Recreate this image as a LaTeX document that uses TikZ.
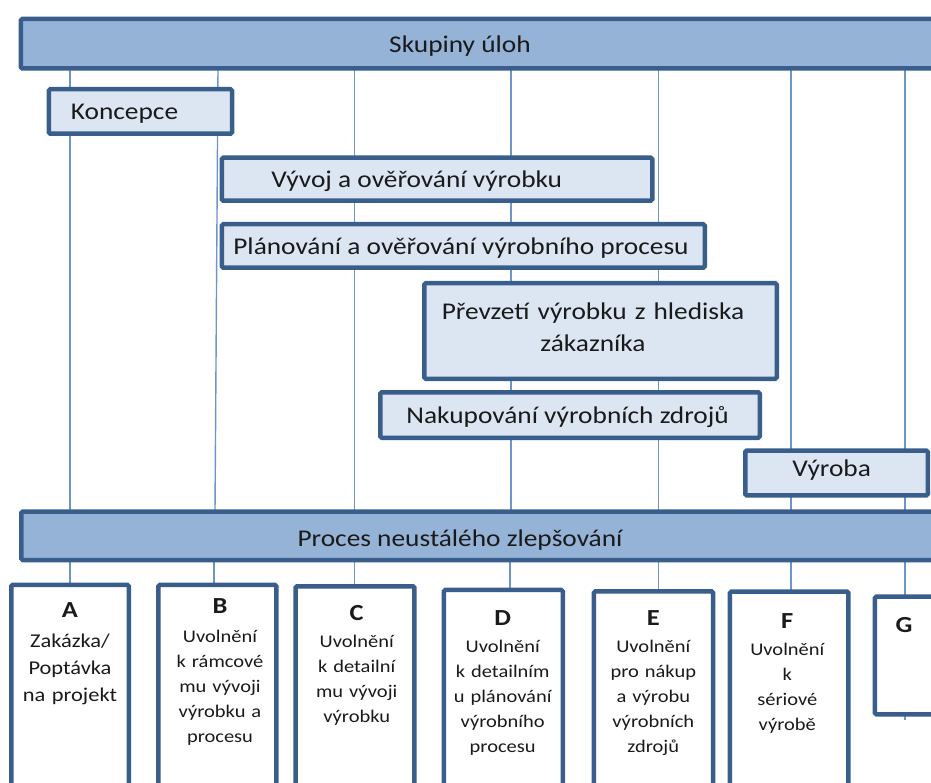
\documentclass[tikz,border=0pt]{standalone}
\usepackage{fontspec}
\setmainfont{Carlito}[FakeStretch=1.14]
\newfontfamily\gatefont{Carlito}[FakeStretch=1.15]
\usetikzlibrary{backgrounds}

\definecolor{barfill}{HTML}{95B3D7}
\definecolor{phasefill}{HTML}{DCE6F2}
\definecolor{edge}{HTML}{3A5E8C}
\definecolor{guide}{HTML}{6C95C8}
\definecolor{ink}{HTML}{1A1A1A}

\newcommand\gateletter[1]{{\fontsize{23}{25}\selectfont\bfseries #1}}

\tikzset{
  frame/.style={draw=edge, line width=4.5pt, rounded corners=1.5pt, inner sep=0pt, outer sep=0pt},
  bar/.style={frame, fill=barfill},
  phase/.style={frame, fill=phasefill},
  gate/.style={frame, fill=white},
  label/.style={inner sep=0pt, text=ink, font=\fontsize{24}{32}\selectfont},
  gatetext/.style={inner sep=0pt, text=ink, anchor=base, text width=118pt, align=center,
                   font=\gatefont\fontsize{17.8}{25}\selectfont},
  guideline/.style={draw=guide, line width=1.4pt}
}

\begin{document}
\begin{tikzpicture}[x=1pt, y=-1pt]
\useasboundingbox (0,0) rectangle (931,783);
\clip (0,0) rectangle (931,783);

% columns of the guide lines
\coordinate (xA) at (70,0);
\coordinate (xB) at (216,0);
\coordinate (xC) at (354.5,0);
\coordinate (xD) at (511,0);
\coordinate (xE) at (658.5,0);
\coordinate (xF) at (791,0);
\coordinate (xG) at (905,0);

% upper and lower bars
\node[bar, minimum width=937pt, minimum height=49.5pt] (top) at (489.25,43.7) {};
\node[label, anchor=base] (topL) at (460,53) {Skupiny úloh};
\node[bar, minimum width=936.5pt, minimum height=48.5pt] (bot) at (489.5,535.8) {};
\node[label, anchor=base] (botL) at (460,546) {Proces neustálého zlepšování};

% task groups
\node[phase, minimum width=183.3pt, minimum height=44.5pt] (p1) at (140.4,111.5) {};
\node[label, anchor=base west] (p1L) at (70.7,120) {Koncepce};
\node[phase, minimum width=430.5pt, minimum height=43pt] (p2) at (437,179.25) {};
\node[label, anchor=base] (p2L) at (416.7,188) {Vývoj a ověřování výrobku};
\node[phase, minimum width=483pt, minimum height=43.5pt] (p3) at (463.25,246) {};
\node[label, anchor=base] (p3L) at (461,255) {Plánování a ověřování výrobního procesu};
\node[phase, minimum width=352.5pt, minimum height=95.5pt] (p4) at (600.5,331) {};
\node[label, anchor=base, text width=340pt, align=center] (p4L) at (593,319.3)
  {Převzetí výrobku z hlediska\\zákazníka};
\node[phase, minimum width=379.5pt, minimum height=45.5pt] (p5) at (570,415) {};
\node[label, anchor=base] (p5L) at (567.6,423.3) {Nakupování výrobních zdrojů};
\node[phase, minimum width=182.5pt, minimum height=44.9pt] (p6) at (836.5,473) {};
\node[label, anchor=base] (p6L) at (831.7,476.7) {Výroba};

% release gates
\node[gate, minimum width=117.5pt, minimum height=213pt] (gA) at (70,691.25) {};
\node[gatetext, font=\gatefont\fontsize{19.5}{27}\selectfont] (tA) at (70,617.2)
  {\gateletter{A}\\[3pt]Zakázka/\\Poptávka\\na projekt};
\node[gate, minimum width=118.2pt, minimum height=212.8pt] (gB) at (217.35,691.35) {};
\node[gatetext] (tB) at (220,613.8)
  {\gateletter{B}\\[4pt]Uvolnění\\k rámcové\\mu vývoji\\výrobku a\\procesu};
\node[gate, minimum width=118.9pt, minimum height=211.5pt] (gC) at (355,692) {};
\node[gatetext] (tC) at (356.7,620)
  {\gateletter{C}\\[2pt]Uvolnění\\k detailní\\mu vývoji\\výrobku};
\node[gate, minimum width=118.8pt, minimum height=207.8pt] (gD) at (503.35,693.85) {};
\node[gatetext] (tD) at (502.7,625.5)
  {\gateletter{D}\\[2pt]Uvolnění\\k detailním\\u plánování\\výrobního\\procesu};
\node[gate, minimum width=119.1pt, minimum height=206.5pt] (gE) at (653.5,694.5) {};
\node[gatetext] (tE) at (653.3,625.5)
  {\gateletter{E}\\[2pt]Uvolnění\\pro nákup\\a výrobu\\výrobních\\zdrojů};
\node[gate, minimum width=118.5pt, minimum height=206.2pt] (gF) at (789.2,694.65) {};
\node[gatetext] (tF) at (787.3,628)
  {\gateletter{F}\\[2.5pt]Uvolnění\\k\\sériové\\výrobě};
\node[gate, minimum width=112.8pt, minimum height=117.9pt] (gG) at (931.35,655.5) {};
\node[gatetext] (tG) at (904,632.2) {\gateletter{G}};

% guide lines behind everything
\begin{pgfonlayer}{background}
  \foreach \c in {xA,xC,xD,xE,xF,xG}
    \draw[guideline] (top.south -| \c) -- (bot.north -| \c);
  \draw[guideline] (top.south -| 218,0) -- (bot.north -| 215,0);
  \draw[guideline] (bot.south -| xA) -- (gA.north -| xA);
  \draw[guideline] (bot.south -| 214,0) -- (gB.north -| 214,0);
  \draw[guideline] (bot.south -| xC) -- (gC.north -| xC);
  \draw[guideline] (bot.south -| 510,0) -- (gD.north -| 510,0);
  \draw[guideline] (bot.south -| xE) -- (gE.north -| xE);
  \draw[guideline] (bot.south -| xF) -- (gF.north -| xF);
  \draw[guideline] (bot.south -| xG) -- (gG.south -| xG) -- ++(0,6);
\end{pgfonlayer}
\end{tikzpicture}
\end{document}
